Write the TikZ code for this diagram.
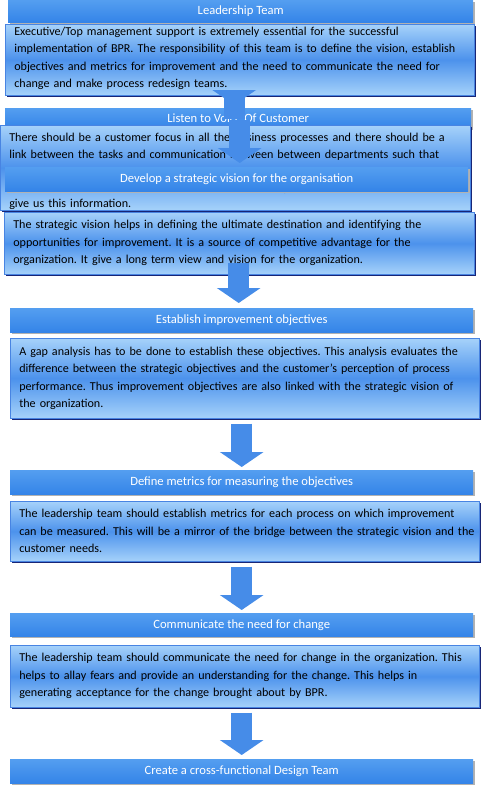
\documentclass[tikz,border=0pt]{standalone}
\usepackage{fontspec}
\setmainfont{Carlito}
\frenchspacing
\hyphenpenalty=10000
\usetikzlibrary{arrows.meta,shadows}
\definecolor{hdblue}{RGB}{52,132,232}
\definecolor{hdtop}{RGB}{84,158,240}
\definecolor{bdlight}{RGB}{166,210,250}
\definecolor{bddark}{RGB}{76,146,236}
\definecolor{bdedge}{RGB}{72,132,226}
\definecolor{bdshadow}{RGB}{24,38,118}
\definecolor{arrowblue}{RGB}{70,140,232}
\tikzset{
  headbox/.style={anchor=north west, inner sep=0pt, top color=hdtop, bottom color=hdblue,
    text=white, font=\fontsize{12.6}{17.5}\selectfont,
    drop shadow={shadow xshift=1.5pt, shadow yshift=-1.5pt, fill=black!30, opacity=1}},
  bodybox/.style={anchor=north west, inner xsep=9pt, inner ysep=0pt, align=left,
    top color=bdlight, bottom color=bdlight, middle color=bddark,
    draw=bdedge, line width=0.6pt, font=\fontsize{12.1}{17.5}\selectfont,
    drop shadow={shadow xshift=2pt, shadow yshift=-2pt, fill=bdshadow, opacity=1}},
  flowarrow/.style={line width=21pt, draw=arrowblue, line cap=butt,
    -{Triangle[width=43pt,length=15pt]}},
}

\begin{document}
\begin{tikzpicture}[x=1pt, y=-1pt]
\useasboundingbox (0,0) rectangle (480,785);
% leadership
\node[headbox, minimum width=465pt, minimum height=22pt] (hd1) at (8,0) {Leadership Team};
\node[bodybox, text width=451pt, minimum height=71pt, text depth=58pt] (bd1) at (5,24) {Executive/Top management support is extremely essential for the successful\\
implementation of BPR. The responsibility of this team is to define the vision, establish\\
objectives and metrics for improvement and the need to communicate the need for\\
change and make process redesign teams.};
% customer
\node[headbox, minimum width=466pt, minimum height=20pt] (hd2) at (5,108) {Listen to Voice Of Customer};
\draw[flowarrow, shorten <=-23pt, shorten >=3pt] ([xshift=-4pt]bd1.south -| hd2.north) -- ([xshift=-4pt]hd2.north);
\node[bodybox, text width=452pt, minimum height=85pt, text height=16pt,
  font=\fontsize{12.1}{16.5}\selectfont] (bd2) at (0,125) {There should be a customer focus in all the business processes and there should be a\\
link between the tasks and communication between between departments such that\\
\mbox{}\\
important to know the customer’s perspective. Focus groups, surveys or site visits can\\
give us this information.};
% vision
\node[headbox, minimum width=463pt, minimum height=24pt] (hd3) at (5,167) {Develop a strategic vision for the organisation};
\draw[flowarrow, shorten <=-8pt, shorten >=4pt] ([xshift=3pt]hd2.south -| hd3.north) -- ([xshift=3pt]hd3.north);
\node[bodybox, text width=452pt, minimum height=62pt] (bd3) at (4,212) {The strategic vision helps in defining the ultimate destination and identifying the\\
opportunities for improvement. It is a source of competitive advantage for the\\
organization. It give a long term view and vision for the organization.};
% objectives
\node[headbox, minimum width=463pt, minimum height=24pt] (hd4) at (10,308) {Establish improvement objectives};
\draw[flowarrow, shorten <=-12pt, shorten >=5pt] ([xshift=-3pt]bd3.south -| hd4.north) -- ([xshift=-3pt]hd4.north);
\node[bodybox, text width=451pt, minimum height=80pt] (bd4) at (10,338) {A gap analysis has to be done to establish these objectives. This analysis evaluates the\\
difference between the strategic objectives and the customer’s perception of process\\
performance. Thus improvement objectives are also linked with the strategic vision of\\
the organization.};
% metrics
\node[headbox, minimum width=463pt, minimum height=24pt] (hd5) at (10,470) {Define metrics for measuring the objectives};
\draw[flowarrow, shorten <=5pt, shorten >=3pt] (bd4.south -| hd5.north) -- (hd5.north);
\node[bodybox, text width=451pt, minimum height=60pt] (bd5) at (10,501) {The leadership team should establish metrics for each process on which improvement\\
\mbox{can be measured. This will be a mirror of the bridge between the strategic vision and the}\\
customer needs.};
% change
\node[headbox, minimum width=463pt, minimum height=23pt] (hd6) at (10,613) {Communicate the need for change};
\draw[flowarrow, shorten <=5pt, shorten >=3pt] (bd5.south -| hd6.north) -- (hd6.north);
\node[bodybox, text width=451pt, minimum height=62pt] (bd6) at (10,645) {The leadership team should communicate the need for change in the organization. This\\
helps to allay fears and provide an understanding for the change. This helps in\\
generating acceptance for the change brought about by BPR.};
% design team
\node[headbox, minimum width=463pt, minimum height=24pt] (hd7) at (10,759) {Create a cross-functional Design Team};
\draw[flowarrow, shorten <=5pt, shorten >=4pt] (bd6.south -| hd7.north) -- (hd7.north);
\end{tikzpicture}
\end{document}
